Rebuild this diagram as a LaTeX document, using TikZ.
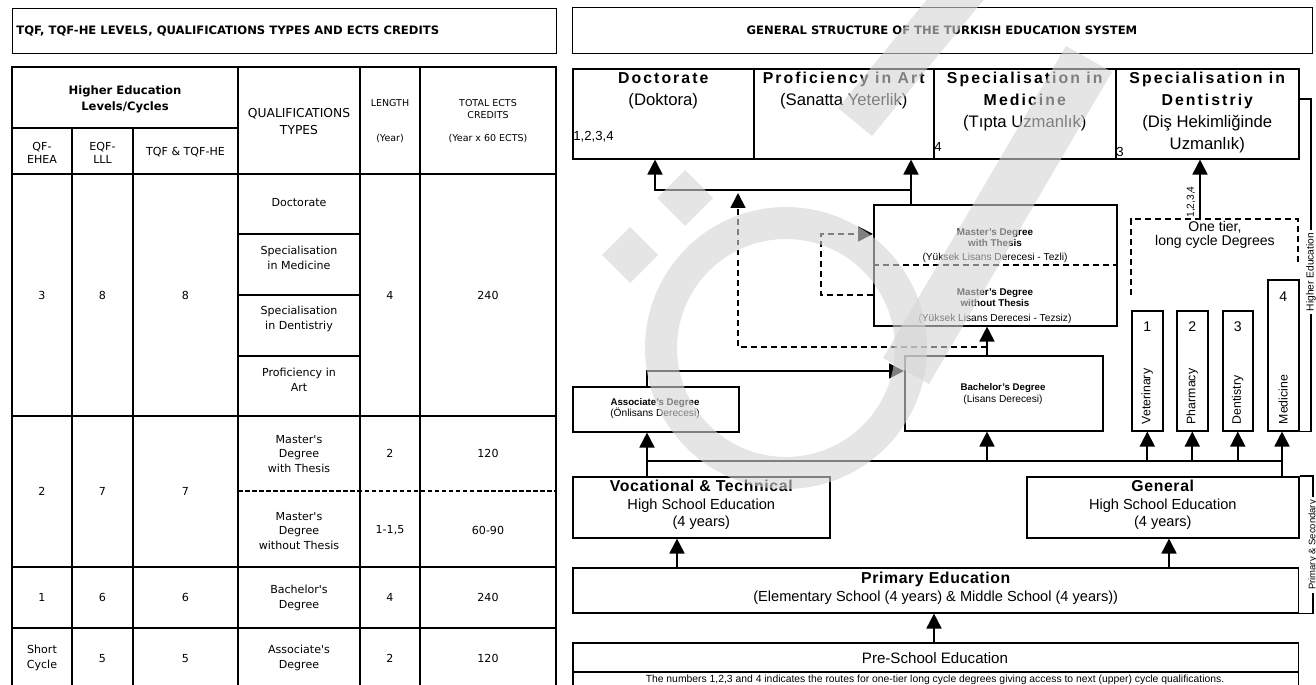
\documentclass[tikz,border=0pt]{standalone}
\usepackage{fontspec}
\setmainfont{Liberation Sans}
\newfontfamily\tahoma{DejaVu Sans}
\newfontfamily\wideA[LetterSpace=13]{Liberation Sans}
\newfontfamily\wideB[LetterSpace=4]{Liberation Sans}
\usetikzlibrary{arrows.meta,positioning}

\tikzset{
  frame/.style={draw,line width=0.8pt,anchor=north west,inner sep=0pt},
  stage/.style={draw,line width=0.9pt,anchor=north west,inner sep=0pt},
  cell/.style={font=\tahoma\fontsize{6.3}{8.5}\selectfont,align=center,inner sep=0pt},
  small/.style={font=\tahoma\fontsize{5.4}{6.8}\selectfont,align=center,inner sep=0pt},
  rule/.style={line width=1.2pt},
  link/.style={line width=1pt},
  up/.style={link,-{Triangle[width=0.3cm,length=0.3cm]}},
  route/.style={link,dash pattern=on 3.4pt off 2.3pt},
  head/.style={font=\fontsize{9.5}{12.5}\selectfont,align=center,inner sep=0pt},
  lower/.style={font=\fontsize{8.3}{10.2}\selectfont,align=center,inner sep=0pt},
  degree/.style={font=\fontsize{5.8}{6.6}\selectfont,align=center,inner sep=0pt},
  num/.style={font=\fontsize{8}{9}\selectfont,inner sep=0pt},
  vlbl/.style={font=\fontsize{7}{8}\selectfont,rotate=90,inner sep=0pt},
  sidelbl/.style={font=\fontsize{5.8}{7}\selectfont,rotate=90,inner sep=1.5pt},
  wm/.style={fill=black!17,opacity=0.6}
}

\begin{document}
\begin{tikzpicture}[x=0.02cm,y=-0.02cm]
\useasboundingbox (0,0) rectangle (1316,685);

% ---------- left panel: levels table
\node[frame,minimum width=10.88cm,minimum height=0.9cm] (ltitle) at (12,8) {};
\node[anchor=west,inner sep=0pt,font=\tahoma\bfseries\fontsize{6.6}{8}\selectfont] (ltitletxt) at (16,31)
  {TQF, TQF-HE LEVELS, QUALIFICATIONS TYPES AND ECTS CREDITS};

\draw[rule] (12,690) -- (12,67) -- (556,67) -- (556,690);
\draw[rule] (12,128) -- (238,128);
\draw[rule] (72,128) -- (72,690) (133,128) -- (133,690);
\draw[rule] (238,67) -- (238,690) (360,67) -- (360,690) (420,67) -- (420,690);
\draw[rule] (12,174) -- (556,174) (12,416) -- (556,416) (12,567) -- (556,567) (12,628) -- (556,628);
\draw[rule] (238,234) -- (360,234) (238,295) -- (360,295) (238,356) -- (360,356);
\draw[line width=1pt,dash pattern=on 2.6pt off 1.4pt] (238,491) -- (556,491);

\node[cell,font=\tahoma\bfseries\fontsize{6.6}{9.1}\selectfont] (hlc) at (125,99) {Higher Education\\Levels/Cycles};
\node[cell,font=\tahoma\fontsize{7}{9.7}\selectfont] (qtyp) at (299,121.5) {QUALIFICATIONS\\TYPES};
\node[small] (len) at (390,103) {LENGTH};
\node[small] (leny) at (390,139) {(Year)};
\node[small] (tot) at (488,109) {TOTAL ECTS\\CREDITS};
\node[small] (toty) at (488,139) {(Year x 60 ECTS)};
\node[cell,font=\tahoma\fontsize{6.3}{7.3}\selectfont] (qf) at (42,153) {QF-\\EHEA};
\node[cell,font=\tahoma\fontsize{6.3}{7.3}\selectfont] (eqf) at (102.5,153) {EQF-\\LLL};
\node[cell] (tqf) at (185.5,152) {TQF \& TQF-HE};

% level 8
\node[cell] (a3) at (42,295.5) {3};
\node[cell] (b3) at (102.5,295.5) {8};
\node[cell] (c3) at (185.5,295.5) {8};
\node[cell] (q31) at (299,203) {Doctorate};
\node[cell] (q32) at (299,257.5) {Specialisation\\in Medicine};
\node[cell] (q33) at (299,318.5) {Specialisation\\in Dentistriy};
\node[cell] (q34) at (299,380) {Proficiency in\\Art};
\node[cell] (l3) at (390,295.5) {4};
\node[cell] (e3) at (488,295.5) {240};
% level 7
\node[cell] (a2) at (42,491) {2};
\node[cell] (b2) at (102.5,491) {7};
\node[cell] (c2) at (185.5,491) {7};
\node[cell] (q21) at (299,454) {Master's\\Degree\\with Thesis};
\node[cell] (q22) at (299,531) {Master's\\Degree\\without Thesis};
\node[cell] (l21) at (390,453.5) {2};
\node[cell] (e21) at (488,453.5) {120};
\node[cell] (l22) at (390,530) {1-1,5};
\node[cell] (e22) at (488,530) {60-90};
% level 6
\node[cell] (a1) at (42,597.5) {1};
\node[cell] (b1) at (102.5,597.5) {6};
\node[cell] (c1) at (185.5,597.5) {6};
\node[cell] (q1) at (299,598) {Bachelor's\\Degree};
\node[cell] (l1) at (390,597.5) {4};
\node[cell] (e1) at (488,597.5) {240};
% level 5
\node[cell] (a0) at (42,658) {Short\\Cycle};
\node[cell] (b0) at (102.5,658.5) {5};
\node[cell] (c0) at (185.5,658.5) {5};
\node[cell] (q0) at (299,658) {Associate's\\Degree};
\node[cell] (l0) at (390,658.5) {2};
\node[cell] (e0) at (488,658.5) {120};

% ---------- right panel: structure
\node[frame,minimum width=14.8cm,minimum height=0.92cm] (rtitle) at (572,7) {};
\node[inner sep=0pt,font=\tahoma\bfseries\fontsize{6.6}{8}\selectfont] (rtitletxt) at (942,30)
  {GENERAL STRUCTURE OF THE TURKISH EDUCATION SYSTEM};

% third cycle
\node[stage,minimum width=3.62cm,minimum height=1.8cm] (doc) at (572,68) {};
\node[stage,minimum width=3.6cm,minimum height=1.8cm] (prof) at (753,68) {};
\node[stage,minimum width=3.64cm,minimum height=1.8cm] (med) at (933,68) {};
\node[stage,minimum width=3.66cm,minimum height=1.8cm] (dent) at (1115,68) {};
\node[head,below=0.08cm of doc.north] (doctxt) {{\wideA\bfseries\fontsize{9}{12.5}\selectfont Doctorate}\\(Doktora)};
\node[head,below=0.08cm of prof.north] (proftxt) {{\wideA\bfseries\fontsize{9}{12.5}\selectfont Proficiency in Art}\\(Sanatta Yeterlik)};
\node[head,below=0.08cm of med.north] (medtxt) {{\wideA\bfseries\fontsize{9}{12.5}\selectfont Specialisation in}\\{\wideA\bfseries\fontsize{9}{12.5}\selectfont M\kern0.15em edicine}\\(Tıpta Uzmanlık)};
\node[head,below=0.08cm of dent.north] (denttxt) {{\wideA\bfseries\fontsize{9}{12.5}\selectfont Specialisation in}\\{\wideA\bfseries\fontsize{9}{12.5}\selectfont Dentistriy}\\(Diş Hekimliğinde\\Uzmanlık)};
\node[num,font=\fontsize{7.5}{8}\selectfont,anchor=west] (docnum) at (573,137) {1,2,3,4};
\node[num,font=\fontsize{7.5}{8}\selectfont,anchor=west] (mednum) at (934,147) {4};
\node[num,font=\fontsize{7.5}{8}\selectfont,anchor=west] (dentnum) at (1116,152) {3};

% second cycle
\node[stage,minimum width=4.86cm,minimum height=2.42cm] (master) at (873,204) {};
\draw[route] (master.west |- 0,265) -- (master.east |- 0,265);
\node[degree,font=\bfseries\fontsize{5.6}{6.3}\selectfont] (mwt) at (995,237.5) {Master's Degree\\with Thesis};
\node[degree] (mwty) at (995,258) {(Yüksek Lisans Derecesi - Tezli)};
\node[degree,font=\bfseries\fontsize{5.6}{6.3}\selectfont] (mwo) at (995,297.5) {Master's Degree\\without Thesis};
\node[degree] (mwoy) at (995,319) {(Yüksek Lisans Derecesi - Tezsiz)};

% first cycle and short cycle
\node[stage,minimum width=3.96cm,minimum height=1.5cm] (bach) at (904,355) {};
\node[degree] (bachtxt) at (1003,394) {{\bfseries\fontsize{5.5}{7.6}\selectfont Bachelor's Degree}\\(Lisans Derecesi)};
\node[stage,minimum width=3.32cm,minimum height=0.9cm] (assoc) at (572,386) {};
\node[degree] (assoctxt) at (655,408.5) {{\bfseries\fontsize{5.5}{7.6}\selectfont Associate's Degree}\\(Önlisans Derecesi)};

% one tier, long cycle
\draw[route] (1131,295) -- (1131,219) -- (1298,219) -- (1298,265);
\coordinate (tier) at (1200,219);
\node[font=\fontsize{8}{8}\selectfont,align=center,inner sep=0pt] (tiertxt) at (1215,235) {One tier,\\long cycle Degrees};
\node[stage,minimum width=0.62cm,minimum height=2.4cm] (vet) at (1131,310) {};
\node[stage,minimum width=0.62cm,minimum height=2.4cm] (pharm) at (1176,310) {};
\node[stage,minimum width=0.6cm,minimum height=2.4cm] (dentis) at (1222,310) {};
\node[stage,minimum width=0.62cm,minimum height=3.02cm] (medi) at (1267,279) {};
\node[num,below=0.23cm of vet.north] (vetn) {1};
\node[num,below=0.23cm of pharm.north] (pharmn) {2};
\node[num,below=0.23cm of dentis.north] (dentisn) {3};
\node[num,below=0.24cm of medi.north] (medin) {4};
\node[vlbl,anchor=west] (vett) at ([yshift=0.14cm]vet.south) {Veterinary};
\node[vlbl,anchor=west] (pharmt) at ([yshift=0.14cm]pharm.south) {Pharmacy};
\node[vlbl,anchor=west] (dentist) at ([yshift=0.14cm]dentis.south) {Dentistry};
\node[vlbl,anchor=west] (medit) at ([yshift=0.14cm]medi.south) {Medicine};

% secondary and primary
\node[stage,minimum width=5.14cm,minimum height=1.22cm] (voc) at (572,476) {};
\node[lower,below=0.066cm of voc.north] (voctxt) {{\wideB\bfseries\fontsize{9}{10.2}\selectfont Vocational \& Technical}\\High School Education\\(4 years)};
\node[stage,minimum width=5.44cm,minimum height=1.22cm] (gen) at (1026,476) {};
\node[lower,below=0.066cm of gen.north] (gentxt) {{\wideB\bfseries\fontsize{9}{10.2}\selectfont General}\\High School Education\\(4 years)};
\node[stage,minimum width=14.52cm,minimum height=0.9cm] (prim) at (572,567) {};
\node[lower,below=0.09cm of prim.north] (primtxt) {{\wideB\bfseries\fontsize{9}{10.2}\selectfont Primary Education}\\(Elementary School (4 years) \& Middle School (4 years))};
\node[stage,minimum width=14.52cm,minimum height=0.96cm] (pre) at (572,642) {};
\draw[link] (pre.west |- 0,672) -- (pre.east |- 0,672);
\node[font=\fontsize{8.6}{9}\selectfont,inner sep=0pt] (pretxt) at (935,658) {Pre-School Education};
\node[font=\fontsize{5.9}{6}\selectfont,inner sep=0pt] (prenote) at (935,680) {The numbers 1,2,3 and 4 indicates the routes for one-tier long cycle degrees giving access to next (upper) cycle qualifications.};

% side brackets
\node[sidelbl] (hedu) at (1311,272) {Higher Education};
\node[sidelbl,font=\fontsize{5.4}{6}\selectfont] (psec) at (1313,545) {Primary \& Secondary};
\draw[link] (dent.east |- 0,99) -| (hedu.east);
\draw[link] (hedu.west) |- (medi.south east);
\draw[link] (gen.north east) -| (psec.east);
\draw[link] (psec.west) |- (prim.south east);

% routes
\coordinate (mj) at (911,190);
\coordinate (dj) at (655,190);
\draw[up] (master.north -| mj) -- (mj |- prof.south);
\draw[up] (mj) -- (dj) -- (dj |- doc.south);
\draw[route,-{Triangle[width=0.3cm,length=0.3cm]}] (master.west |- 0,295) -- (821,295) -- (821,234) -- (master.west |- 0,234);
\coordinate (bj) at (987,347);
\coordinate (dtip) at (738,193);
\draw[up] (bach.north -| bj) -- (bj |- master.south);
\draw[route,-{Triangle[width=0.3cm,length=0.3cm]}] (bj) -- (dtip |- bj) -- (dtip);
\draw[up] (assoc.north -| 647,0) |- (bach.west |- 0,371);
\draw[up] (tier) -- (tier |- dent.south);
\node[sidelbl,inner sep=0pt] (tierlbl) at (1191,202) {1,2,3,4};

\coordinate (bl) at (647,461);
\coordinate (br) at (1282,461);
\draw[link] (bl) -- (br);
\draw[up] (voc.north -| bl) -- (bl) -- (assoc.south -| bl);
\draw[link] (gen.north -| br) -- (br);
\draw[up] (br) -- (medi.south -| br);
\draw[up] (bl -| bj) -- (bach.south -| bj);
\draw[up] (bl -| vet) -- (vet.south);
\draw[up] (bl -| pharm) -- (pharm.south);
\draw[up] (bl -| dentis) -- (dentis.south);
\draw[up] (prim.north -| 677,0) -- (voc.south -| 677,0);
\draw[up] (prim.north -| 1169,0) -- (gen.south -| 1169,0);
\draw[up] (pre.north -| 934,0) -- (prim.south -| 934,0);

% watermark
\fill[wm,even odd rule] (786,348) circle[radius=2.82cm] (786,348) circle[radius=2.18cm];
\fill[wm] (685,170) -- (713,198) -- (685,226) -- (657,198) -- cycle;
\fill[wm] (630,227) -- (658,255) -- (630,283) -- (602,255) -- cycle;
\fill[wm] (1000,-20) -- (872,136) -- (838,108) -- (966,-48) -- cycle;
\fill[wm] (1112,72) -- (929,384) -- (883,358) -- (1066,46) -- cycle;
\end{tikzpicture}
\end{document}
